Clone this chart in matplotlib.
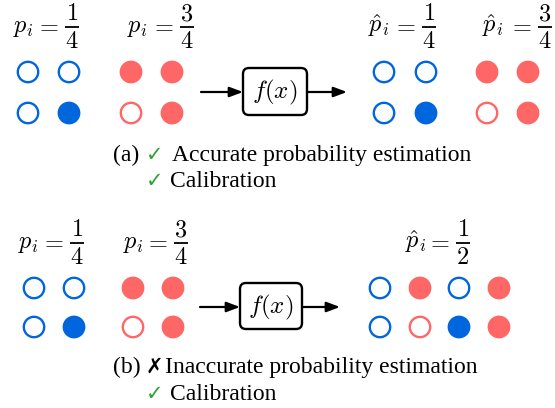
import matplotlib
matplotlib.use("Agg")
import matplotlib.pyplot as plt
from matplotlib.patches import Circle, FancyBboxPatch

plt.rcParams['mathtext.fontset'] = 'cm'

BLUE = '#0066dd'
RED = '#ff6666'
GREEN = '#33a033'

# ---- data ----
a_in_blue_fill = [[0, 0], [0, 1]]
a_in_red_fill = [[1, 1], [0, 1]]
a_out_blue_fill = [[0, 0], [0, 1]]
a_out_red_fill = [[1, 1], [0, 1]]
b_in_blue_fill = [[0, 0], [0, 1]]
b_in_red_fill = [[1, 1], [0, 1]]
b_out_colors = [['b', 'r', 'b', 'r'], ['b', 'r', 'b', 'r']]
b_out_fill = [[0, 1, 0, 1], [0, 0, 1, 1]]

a_lhs = [r'$p_i$', r'$p_i$', r'$\hat{p}_i$', r'$\hat{p}_i$']
a_num = ['1', '3', '1', '3']
a_den = ['4', '4', '4', '4']
b_lhs = [r'$p_i$', r'$p_i$', r'$\hat{p}_i$']
b_num = ['1', '3', '1']
b_den = ['4', '4', '2']
func_label = r'$f(x)$'
cap_a = ['(a)', '\u2713', 'Accurate probability estimation', '\u2713', 'Calibration']
cap_b = ['(b)', '\u2717', 'Inaccurate probability estimation', '\u2713', 'Calibration']

# ---- layout ----
W, H = 555, 408
fig = plt.figure(figsize=(W / 100, H / 100), dpi=100)
ax = fig.add_axes([0, 0, 1, 1])
ax.set_xlim(0, W)
ax.set_ylim(H, 0)
ax.set_aspect('equal')
ax.axis('off')

R_FILL = 11.4
R_OPEN = 10.2
LW_OPEN = 1.7
MFS = 17.5


def dot(x, y, color, filled):
    c = BLUE if color == 'b' else RED
    if filled:
        ax.add_patch(Circle((x, y), R_FILL, facecolor=c, edgecolor='none'))
    else:
        ax.add_patch(Circle((x, y), R_OPEN, facecolor='none', edgecolor=c, lw=LW_OPEN))


def grid(xs, ys, color, fills):
    for r, y in enumerate(ys):
        for c, x in enumerate(xs):
            dot(x, y, color, fills[r][c])


def frac_label(x_left, bar_left, ybar, lhs, num, den):
    bw = 14
    ax.text(x_left, ybar + 5, lhs, ha='left', va='baseline', fontsize=MFS)
    ax.text(bar_left - 18, ybar + 5, r'$=$', ha='center', va='baseline', fontsize=MFS)
    ax.plot([bar_left, bar_left + bw], [ybar, ybar], color='black', lw=1.3,
            solid_capstyle='butt')
    xc = bar_left + bw / 2
    ax.text(xc, ybar - 6.5, '$' + num + '$', ha='center', va='baseline', fontsize=MFS)
    ax.text(xc, ybar + 20.5, '$' + den + '$', ha='center', va='baseline', fontsize=MFS)


def func_box(x0, x1, y0, y1, ya, ax_start, ax_end):
    ax.add_patch(FancyBboxPatch((x0, y0), x1 - x0, y1 - y0,
                                boxstyle='round,pad=0,rounding_size=6',
                                facecolor='white', edgecolor='black', lw=1.7))
    ax.text((x0 + x1) / 2, (y0 + y1) / 2 + 1, func_label, ha='center', va='center',
            fontsize=MFS + 0.5)
    for xs_, xe_ in [(ax_start, x0), (x1, ax_end)]:
        ax.annotate('', xy=(xe_, ya), xytext=(xs_, ya),
                    arrowprops=dict(arrowstyle='-|>,head_length=0.8,head_width=0.3',
                                    color='black', lw=1.6, shrinkA=0, shrinkB=0))


# panel (a)
rows_a = [72, 113]
grid([28, 69], rows_a, 'b', a_in_blue_fill)
grid([131, 172], rows_a, 'r', a_in_red_fill)
grid([384, 426], rows_a, 'b', a_out_blue_fill)
grid([487, 528], rows_a, 'r', a_out_red_fill)
for lhs, n, d, xl, bl in zip(a_lhs, a_num, a_den, [13, 127, 368, 482], [65, 180, 422, 538]):
    frac_label(xl, bl, 27, lhs, n, d)
func_box(243, 307, 68, 115, 92, 201, 347)

# panel (b)
rows_b = [288, 327]
grid([34, 74], rows_b, 'b', b_in_blue_fill)
grid([133, 173], rows_b, 'r', b_in_red_fill)
for r, y in enumerate(rows_b):
    for c, x in enumerate([380, 420, 459, 499]):
        dot(x, y, b_out_colors[r][c], b_out_fill[r][c])
for lhs, n, d, xl, bl in zip(b_lhs, b_num, b_den, [18, 123, 405], [70, 174, 456]):
    frac_label(xl, bl, 243, lhs, n, d)
func_box(240, 302, 283, 329, 307, 200, 340)

# captions
FS = 17
serif = ['Liberation Serif', 'DejaVu Serif']
sym = ['DejaVu Sans']


def caption(parts, y1, y2, sym1_color):
    ax.text(113, y1, parts[0], fontsize=FS, family=serif, va='baseline')
    ax.text(146, y1, parts[1], fontsize=FS - 2, family=sym, color=sym1_color, va='baseline',
            fontweight='bold' if sym1_color == 'black' else 'normal')
    ax.text(165 if sym1_color == 'black' else 172, y1, parts[2], fontsize=FS, family=serif,
            va='baseline')
    ax.text(146, y2, parts[3], fontsize=FS - 2, family=sym, color=GREEN, va='baseline')
    ax.text(170, y2, parts[4], fontsize=FS, family=serif, va='baseline')


caption(cap_a, 161, 187, GREEN)
caption(cap_b, 373, 400, 'black')

fig.savefig('out.png', dpi=100)
